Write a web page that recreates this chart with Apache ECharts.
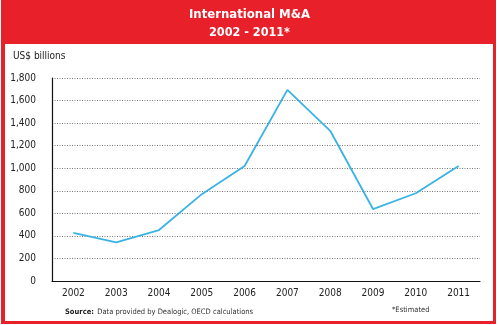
<!DOCTYPE html>
<html><head><meta charset="utf-8">
<script src="https://cdn.jsdelivr.net/npm/echarts@6/dist/echarts.min.js"></script>
<style>html,body{margin:0;padding:0;background:#fff}#c{width:499px;height:325px}</style>
</head><body><div id="c"></div>
<script>
var years = ['2002','2003','2004','2005','2006','2007','2008','2009','2010','2011'];
var values = [426, 343, 452, 770, 1020, 1695, 1332, 638, 778, 1020];
var yTicks = [0,200,400,600,800,1000,1200,1400,1600,1800];
var RED = '#e8202a';
var FONT = '"DejaVu Sans Condensed", "Liberation Sans Narrow", sans-serif';
var chart = echarts.init(document.getElementById('c'));
chart.setOption({
  backgroundColor: '#fff',
  animation: false,
  graphic: [
    {type:'rect', shape:{x:1,y:0,width:495,height:324}, style:{fill:RED}, z:-10},
    {type:'rect', shape:{x:5,y:44,width:488,height:277}, style:{fill:'#fff'}, z:-9},
    {type:'text', left:'center', top:8, style:{text:'International M&A', fill:'#fff', font:'bold 13px ' + FONT}},
    {type:'text', left:'center', top:26, style:{text:'2002 - 2011*', fill:'#fff', font:'bold 12.5px ' + FONT}},
    {type:'text', left:13, top:51, style:{text:'US$ billions', fill:'#222', font:'10px ' + FONT}},
    {type:'text', left:65, top:306, style:{rich:{b:{fontWeight:'bold',fontSize:7.5,fill:'#222',fontFamily:FONT},n:{fontSize:7.5,fill:'#333',fontFamily:FONT}}, text:'{b|Source:} {n|Data provided by Dealogic, OECD calculations}'}},
    {type:'text', left:392, top:306, style:{text:'*Estimated', fill:'#333', font:'7.5px ' + FONT}}
  ],
  grid: {left:52, right:19, top:78, bottom:44},
  xAxis: {
    type:'category', data: years, boundaryGap:true,
    axisLine:{lineStyle:{color:'#111', width:1.2}},
    axisTick:{show:false},
    axisLabel:{color:'#222', fontSize:10, margin:7, fontFamily:FONT}
  },
  yAxis: {
    type:'value', min:0, max:1800, interval:200,
    axisLine:{show:true, lineStyle:{color:'#111', width:1.2}},
    axisTick:{show:false},
    axisLabel:{color:'#222', fontSize:10, margin:16, fontFamily:FONT,
      formatter:function(v){return v.toLocaleString('en-US');}},
    splitLine:{lineStyle:{color:'#777', type:[1,1.5], width:1}}
  },
  series: [{
    type:'line', data: values, symbol:'none',
    lineStyle:{color:'#3ab3e4', width:1.8}
  }]
});
</script></body></html>
